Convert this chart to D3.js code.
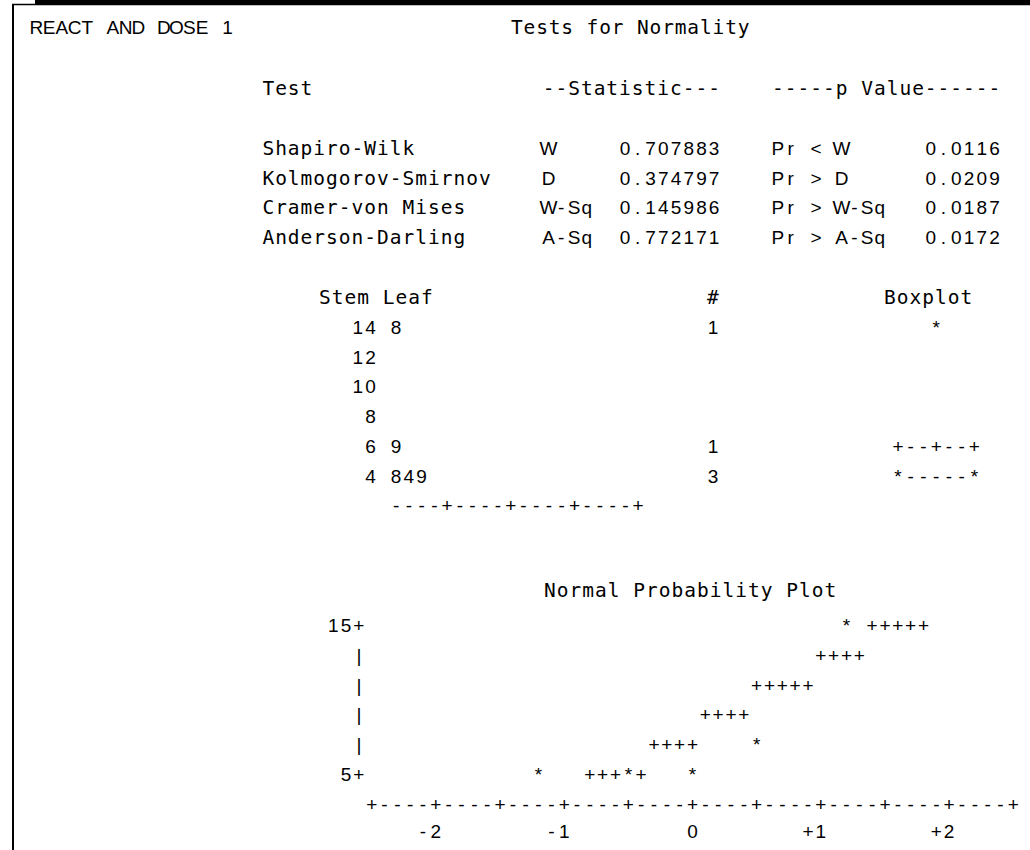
<!DOCTYPE html>
<html>
<head>
<meta charset="utf-8">
<script src="https://cdn.jsdelivr.net/npm/d3@7"></script>
<style>
  html, body { margin: 0; padding: 0; background: #fff; }
  svg { display: block; }
  text { fill: #000; white-space: pre; }
  .mono { font-family: "DejaVu Sans Mono", monospace; font-size: 19.5px; }
  .sans { font-family: "Liberation Sans", Arial, sans-serif; font-size: 19px; }
</style>
</head>
<body>
<svg id="chart" width="1030" height="850"></svg>
<script>
// ---- Listing content -------------------------------------------------------
const byLabel = "REACT AND DOSE 1";
const reportTitle = "Tests for Normality";
const headerTest = "Test";
const headerStat = "--Statistic---";
const headerP = "-----p Value------";

const testNames = ["Shapiro-Wilk", "Kolmogorov-Smirnov", "Cramer-von Mises", "Anderson-Darling"];
const statSymbols = ["W", "D", "W-Sq", "A-Sq"];
const statValues = [0.707883, 0.374797, 0.145986, 0.772171];
const pLabels = ["Pr < W", "Pr > D", "Pr > W-Sq", "Pr > A-Sq"];
const pValues = [0.0116, 0.0209, 0.0187, 0.0172];

// stem-and-leaf display with boxplot
const stems = [14, 12, 10, 8, 6, 4];
const leaves = ["8", "", "", "", "9", "849"];
const leafCounts = [1, 0, 0, 0, 1, 3];
const boxplotRows = ["   *", "", "", "", "+--+--+", "*-----*"];
const stemAxis = "----+----+----+----+";

// normal probability plot
const plotTitle = "Normal Probability Plot";
const observations = [4.8, 5.4, 5.9, 6.9, 14.8];
const normalQuantiles = [-1.18, -0.50, 0.00, 0.50, 1.18];
const refMean = 7.72;   // reference line: mean + std * z
const refStd = 4.58;
const xTickValues = [-2, -1, 0, 1, 2];
const yTickValues = [5, 15];

// ---- Drawing ----------------------------------------------------------------
const svg = d3.select("#chart");

// fixed-pitch text: every character centred in its own cell
function cellText(g, str, left, baseline, pitch, cls) {
  const xs = Array.from(str, (c, i) => (left + (i + 0.5) * pitch).toFixed(2));
  return g.append("text")
    .attr("class", cls)
    .attr("x", xs.join(" "))
    .attr("y", baseline)
    .attr("text-anchor", "middle")
    .text(str);
}

// frame of the listing page
const frame = svg.append("g");
frame.append("rect").attr("x", 35).attr("y", 0).attr("width", 995).attr("height", 4).attr("fill", "#000");
frame.append("line").attr("x1", 12).attr("x2", 1030).attr("y1", 4.5).attr("y2", 4.5)
  .attr("stroke", "#000").attr("stroke-width", 1.5);
frame.append("line").attr("x1", 13).attr("x2", 13).attr("y1", 4).attr("y2", 850)
  .attr("stroke", "#000").attr("stroke-width", 2);

// ---- Tests for normality table
const P = 12.74;
const col = c => 32.57 + c * P;
const tbl = svg.append("g");
cellText(tbl, byLabel, 30, 34, P, "sans");
cellText(tbl, reportTitle, 510.5, 34, 12.6, "mono");
cellText(tbl, headerTest, col(18), 95, P, "mono");
cellText(tbl, headerStat, col(40), 95, P, "mono");
cellText(tbl, headerP, col(58), 95, P, "mono");

const rowY = d3.scaleLinear().domain([0, 3]).range([155, 243.8]);
testNames.forEach((name, i) => {
  const y = rowY(i);
  cellText(tbl, name, col(18), y, P, "mono");
  cellText(tbl, statSymbols[i], col(40), y, P, "sans");
  cellText(tbl, d3.format(".6f")(statValues[i]), col(46), y, P, "sans");
  cellText(tbl, pLabels[i], col(58), y, P, "sans");
  cellText(tbl, d3.format(".4f")(pValues[i]), col(70), y, P, "sans");
});

// ---- Stem-and-leaf and boxplot
const sl = svg.append("g");
const slRow = d3.scaleLinear().domain([0, 1]).range([304, 333.75]);
const stemLeft = 351.5, leafLeft = stemLeft + 3 * P, countLeft = 706.6, boxLeft = 891.6;
cellText(sl, "Stem Leaf", 318.5, slRow(0), P, "mono");
cellText(sl, "#", countLeft, slRow(0), P, "mono");
cellText(sl, "Boxplot", 883.5, slRow(0), P, "mono");
stems.forEach((s, i) => {
  const y = slRow(i + 1);
  cellText(sl, String(s).padStart(2, " "), stemLeft, y, P, "sans");
  if (leaves[i]) cellText(sl, leaves[i], leafLeft, y, P, "sans");
  if (leafCounts[i] > 0) cellText(sl, String(leafCounts[i]), countLeft, y, P, "sans");
  if (boxplotRows[i]) cellText(sl, boxplotRows[i], boxLeft, y, P, "sans");
});
cellText(sl, stemAxis, leafLeft, slRow(stems.length + 1), P, "sans");

// ---- Normal probability plot (character plot)
const np = svg.append("g");
const x = d3.scaleLinear().domain([-2.5, 2.5]).range([371.7, 1013.3]);
const y = d3.scaleLinear().domain([5, 15]).range([781, 632]);
const cp = (x(2.5) - x(-2.5)) / 50;      // one character cell = 0.1 in z
const rowStep = y(5) - y(7);             // one text row = 2 units
const snapZ = z => Math.round(z * 10) / 10;
const rowOf = v => 2 * Math.floor(v / 2) + 1;

cellText(np, plotTitle, 543.5, 597, 12.75, "mono");

// vertical axis: tick labels, plus signs and bars
const rows = d3.range(yTickValues[1], yTickValues[0] - 1, -2);
rows.forEach(r => {
  const isTick = yTickValues.includes(r);
  const ch = isTick ? "+" : "|";
  np.append("text").attr("class", "sans").attr("x", x(-2.6)).attr("y", y(r))
    .attr("text-anchor", "middle").text(ch);
  if (isTick) {
    const lab = String(r);
    cellText(np, lab, x(-2.6) - cp / 2 - lab.length * cp, y(r), cp, "sans");
  }
});

// horizontal axis line of '+' and '-' cells
const axisZ = d3.range(0, 51).map(k => snapZ(-2.5 + k * 0.1));
const axisStr = axisZ.map(z => (Math.round(z * 10) % 5 === 0 ? "+" : "-")).join("");
cellText(np, axisStr, x(-2.5) - cp / 2, y(5) + rowStep, cp, "sans");

// horizontal tick labels, last character under its tick
xTickValues.forEach(t => {
  const lab = t > 0 ? "+" + t : String(t);
  cellText(np, lab, x(t) + cp / 2 - lab.length * cp, y(5) + 2 * rowStep - 3, cp, "sans");
});

// observed points
const pts = observations.map((v, i) => ({ z: snapZ(normalQuantiles[i]), r: rowOf(v) }));
const taken = new Set(pts.map(p => p.z + "|" + p.r));

// reference line drawn with '+' where it crosses each row band
const refPts = axisZ
  .map(z => ({ z, r: rowOf(refMean + refStd * z) }))
  .filter(p => p.r >= 5 && p.r <= 15 && !taken.has(p.z + "|" + p.r));

np.selectAll("text.ref").data(refPts).join("text")
  .attr("class", "sans ref")
  .attr("x", d => x(d.z)).attr("y", d => y(d.r))
  .attr("text-anchor", "middle").text("+");

np.selectAll("text.obs").data(pts).join("text")
  .attr("class", "sans obs")
  .attr("x", d => x(d.z)).attr("y", d => y(d.r))
  .attr("text-anchor", "middle").text("*");
</script>
</body>
</html>
